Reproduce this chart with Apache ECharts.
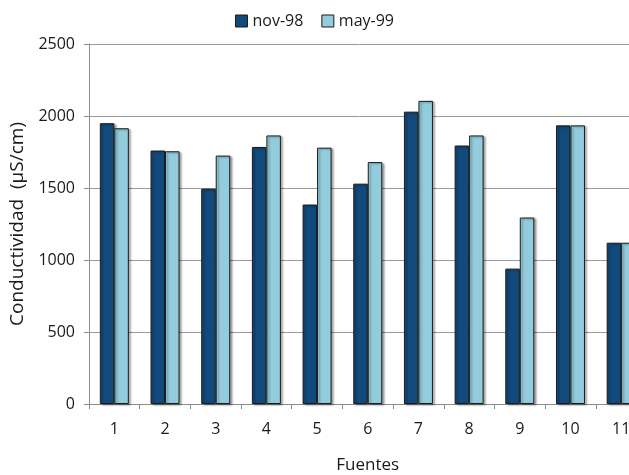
<!DOCTYPE html>
<html>
<head>
<meta charset="utf-8">
<script src="https://cdn.jsdelivr.net/npm/echarts@6/dist/echarts.min.js"></script>
<style>
  html, body { margin: 0; padding: 0; background: #fff; }
  #chart { width: 629px; height: 475px; }
</style>
</head>
<body>
<div id="chart"></div>
<script>
// Conductivity per source, two sampling campaigns
const fuentes = ['1', '2', '3', '4', '5', '6', '7', '8', '9', '10', '11'];
const nov98 = [1950, 1760, 1495, 1785, 1385, 1530, 2030, 1795, 940, 1935, 1120];
const may99 = [1915, 1755, 1725, 1865, 1780, 1680, 2105, 1865, 1295, 1935, 1120];
const yTicks = [0, 500, 1000, 1500, 2000, 2500];

const FONT = '"Open Sans", "Noto Sans", sans-serif';
const AXIS_GRAY = '#8c8c8c';

const chart = echarts.init(document.getElementById('chart'), null, { renderer: 'canvas' });

const barStyle = (color) => ({
  color: color,
  borderColor: '#1b1b1b',
  borderWidth: 1,
  shadowColor: 'rgba(0,0,0,0.35)',
  shadowBlur: 2,
  shadowOffsetX: 2,
  shadowOffsetY: 1
});

chart.setOption({
  animation: false,
  legend: {
    top: 8,
    left: 'center',
    icon: 'rect',
    itemWidth: 12,
    itemHeight: 12,
    itemGap: 18,
    textStyle: { fontFamily: FONT, fontSize: 16, color: '#1a1a1a' },
    data: [
      { name: 'nov-98', itemStyle: { color: '#124a7c', borderColor: '#1b1b1b', borderWidth: 1 } },
      { name: 'may-99', itemStyle: { color: '#93cddd', borderColor: '#1b1b1b', borderWidth: 1 } }
    ]
  },
  // the last category runs past the right edge of the canvas
  grid: { left: 89, top: 44, width: 557.5, height: 360, outerBoundsMode: 'none', containLabel: false },
  xAxis: {
    type: 'category',
    data: fuentes,
    name: 'Fuentes',
    nameLocation: 'middle',
    nameGap: 53,
    nameTextStyle: { fontFamily: FONT, fontSize: 17, color: '#1a1a1a' },
    axisLine: { lineStyle: { color: AXIS_GRAY, width: 1 } },
    axisTick: { show: true, length: 5, lineStyle: { color: AXIS_GRAY } },
    axisLabel: { fontFamily: FONT, fontSize: 16, color: '#1a1a1a', margin: 17 }
  },
  yAxis: {
    type: 'value',
    min: yTicks[0],
    max: yTicks[yTicks.length - 1],
    interval: 500,
    name: 'Conductividad  (µS/cm)',
    nameLocation: 'middle',
    nameGap: 57,
    nameTextStyle: { fontFamily: FONT, fontSize: 19, color: '#1a1a1a' },
    axisLine: { show: true, lineStyle: { color: AXIS_GRAY, width: 1 } },
    axisTick: { show: true, length: 5, lineStyle: { color: AXIS_GRAY } },
    axisLabel: {
      fontFamily: FONT, fontSize: 16, color: '#1a1a1a', margin: 14,
      formatter: (v) => String(v)
    },
    splitLine: { lineStyle: { color: '#9a9a9a', width: 1 } }
  },
  series: [
    {
      name: 'nov-98',
      type: 'bar',
      data: nov98,
      barWidth: 14.5,
      barGap: '0%',
      itemStyle: barStyle('#124a7c')
    },
    {
      name: 'may-99',
      type: 'bar',
      data: may99,
      barWidth: 14.5,
      barGap: '0%',
      itemStyle: barStyle('#93cddd')
    }
  ]
});
</script>
</body>
</html>
